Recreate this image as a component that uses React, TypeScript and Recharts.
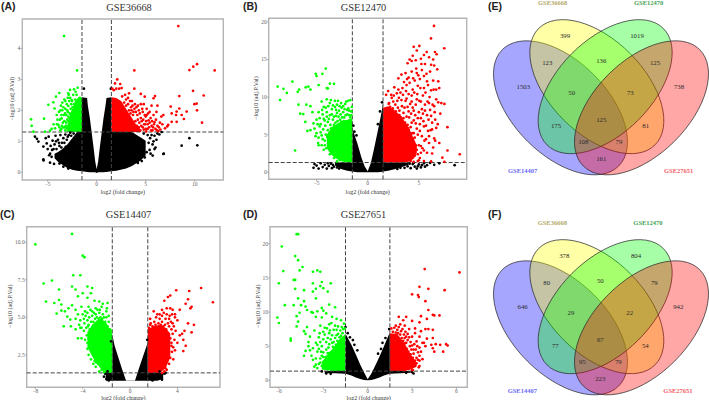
import {
  Area,
  ComposedChart,
  ReferenceArea,
  ReferenceLine,
  Scatter,
  ScatterChart,
  XAxis,
  YAxis,
} from "recharts";

type Pt = number[];

// ---- volcano A: GSE36668 ----
const aBlackBand: Pt[] = [
  [-4.3, 0.45, 0.6], [-3.9, 0.32, 0.66], [-3.5, 0.24, 0.75], [-3, 0.14, 0.9], [-2.5, 0.08, 1.1], [-2, 0.05, 1.3],
  [-1.5, 0.03, 1.3], [-1.49, 0.03, 2.42], [-0.98, 0.01, 2.4], [-0.9, 0.01, 2.15], [-0.7, 0, 1.75], [-0.5, 0, 1.25], [-0.3, 0, 0.75], [-0.15, 0, 0.35], [0, -0.02, 0.1],
  [0.15, 0, 0.35], [0.3, 0, 0.75], [0.5, 0, 1.25], [0.7, 0, 1.75], [0.9, 0.01, 2.15], [1.0, 0.01, 2.4], [1.49, 0.03, 2.42], [1.5, 0.03, 1.3],
  [2, 0.05, 1.3], [3, 0.12, 1.3], [3.6, 0.2, 1.3], [4, 0.28, 1.22], [4.5, 0.38, 1.12], [5, 0.55, 1.02],
];
const aGreenBand: Pt[] = [[-3, 1.3, 1.5], [-2.6, 1.3, 1.95], [-2.2, 1.3, 2.3], [-1.8, 1.3, 2.45], [-1.5, 1.3, 2.42]];
const aRedBand: Pt[] = [[1.5, 1.3, 2.42], [2, 1.3, 2.4], [2.5, 1.3, 2.3], [3, 1.3, 2.05], [3.5, 1.3, 1.8], [4, 1.3, 1.55], [4.5, 1.3, 1.38]];
const aBlack: Pt[] = [
  [9.46, 1.1], [8.67, 0.86], [10.27, 0.87], [6.8, 0.59], [6.85, 0.6], [5.71, 0.54], [6.63, 1.3], [6.4, 1.22], [6.1, 1.05], [5.9, 1.18], [5.7, 0.9], [5.4, 0.72], [5.1, 0.65], [4.9, 0.48], [4.6, 0.36], [4.2, 0.3],
  [5.2, 1.2], [5.3, 0.95], [5.6, 1.2], [5.8, 1], [6, 0.8], [6.2, 1.25], [5.5, 0.6], [5.9, 0.75], [5.45, 1.1], [4.8, 1.25],
  [-1.3, 2.7], [1.45, 2.7], [-6.3, 1.15], [-5.95, 0.99], [-6.1, 1.08], [-5.44, 0.42], [-5.42, 0.38], [-4.76, 0.31], [-4.35, 0.27], [-5.44, 0.83], [-5.1, 0.93], [-5.2, 1.1], [-5, 0.75], [-4.9, 1.15], [-4.75, 0.6], [-4.7, 0.85], [-4.5, 1.02], [-4.55, 0.72], [-4.3, 0.9], [-4.2, 1.18], [-4.1, 0.75], [-3.95, 1.05], [-3.8, 0.85], [-3.7, 1.2], [-3.55, 0.95], [-3.4, 1.1], [-3.2, 1.22], [-3.05, 1.05], [-2.85, 1.2], [-3.8, 0.28], [-3.4, 0.18], [-2.9, 0.12],
  [-4.4, 0.75], [-4.15, 1], [-3.85, 0.95], [-3.6, 0.8], [-3.3, 0.95], [-3.15, 0.82], [-2.95, 1.15], [-2.7, 1.28], [-2.6, 1.18], [-2.35, 1.25], [-4.6, 0.5], [-4.85, 0.55],
];
const aGreen: Pt[] = [
  [-3.33, 4.4], [-2, 3.29], [-6.7, 1.71], [-6.63, 1.5], [-6.46, 1.31], [-5.37, 1.73], [-5.27, 1.31], [-4.93, 2.18], [-4.76, 1.34], [-4.42, 2.26], [-4.15, 2.44], [-3.81, 2.56], [-4.3, 2.06], [-4.08, 1.85], [-4.25, 1.42], [-3.9, 1.53], [-3.57, 1.74], [-3.23, 1.9], [-2.9, 2.14], [-2.55, 2.33], [-2.72, 2.66], [-2.31, 2.68], [-1.94, 2.73],
  [-2.9, 2.55], [-2.4, 2.5], [-3.2, 2.3], [-3.4, 2.1], [-3.7, 2], [-3.1, 1.6], [-3.4, 1.45], [-3.7, 1.35], [-4, 1.7], [-2.9, 1.8], [-3.2, 1.35], [-2.7, 1.55], [-2.95, 2.4], [-3.5, 2.25], [-3.85, 1.95], [-4.05, 1.55], [-3, 2], [-3.3, 1.65], [-2.65, 2.05], [-2.75, 1.9], [-2.6, 2.2], [-2.85, 1.65], [-3.55, 1.5], [-3.15, 1.5], [-2.8, 2.3], [-2.45, 2.1], [-3.6, 1.85], [-2.5, 1.95], [-4.4, 1.55], [-2.15, 2.6], [-2.05, 2.5], [-4.6, 1.4], [-3.05, 1.42],
  [-2.2, 2.35], [-2.3, 2.2], [-2.35, 2], [-2.4, 1.8], [-2.45, 1.55], [-2.5, 2.3], [-2.55, 1.75], [-2.6, 1.5], [-2.65, 1.85], [-2.7, 2.4], [-2.75, 1.45], [-2.8, 1.75], [-2.85, 2.5], [-2.9, 1.5], [-2.95, 1.95], [-3, 1.7], [-3.05, 2.2], [-3.1, 1.85], [-3.2, 2.05], [-3.25, 1.45], [-3.3, 2.35], [-3.35, 1.85], [-3.45, 1.6], [-3.5, 2], [-3.6, 1.4], [-3.65, 2.15], [-3.75, 1.7], [-3.8, 1.45],
];
const aRed: Pt[] = [
  [8.33, 4.72], [10.24, 3.49], [9.46, 3.3], [9.86, 3.41], [12.04, 3.29], [3.84, 3.29], [2.1, 3], [1.87, 2.87], [3.84, 2.7], [9.83, 2.63], [8.43, 2.46], [10.92, 2.48], [10.2, 2.22], [9.97, 2.2], [10.24, 2], [10.75, 1.6], [7.55, 2.12], [8.43, 2.06], [9.18, 1.96], [8.16, 1.96], [7.65, 1.9], [8.1, 1.85], [8.67, 1.85], [6.8, 1.85], [8.16, 1.63], [7.65, 1.63], [7.3, 1.53], [6.97, 1.42], [6.6, 1.8], [8.9, 1.72], [7.2, 1.48],
  [1.6, 2.7], [1.75, 2.65], [2, 2.7], [2.3, 2.7], [2.55, 2.72], [2.4, 2.85], [2.9, 2.5], [3.3, 2.55], [3, 2.35], [3.6, 2.3], [4.5, 2.53], [4.9, 2.44], [5.95, 2.46], [5.8, 2.39], [3.5, 2.1], [3.9, 2.2], [4.2, 2.15], [4.5, 2.2], [4.8, 2.2], [5.1, 2.05], [5.6, 2.15], [6.2, 2.15], [3.2, 2.2], [4, 1.95], [4.4, 1.9], [4.7, 1.95], [5, 1.8], [5.4, 1.95], [5.8, 1.85], [6.1, 1.95], [3.7, 1.85], [4.2, 1.7], [4.6, 1.65], [4.95, 1.55], [5.3, 1.68], [5.6, 1.5], [5.9, 1.62], [6.2, 1.5], [6.5, 1.38], [6.3, 1.33], [5.7, 1.35], [5.2, 1.4], [4.8, 1.38], [6.7, 1.55], [4.3, 1.45], [5.05, 1.32],
  [2.6, 2.45], [2.8, 2.25], [3, 2.15], [3.2, 2.4], [3.3, 2], [3.4, 2.3], [3.45, 1.9], [3.55, 2], [3.6, 1.65], [3.65, 2.15], [3.7, 1.55], [3.75, 1.95], [3.8, 1.4], [3.85, 2.05], [3.95, 1.65], [4, 1.35], [4.05, 2.1], [4.1, 1.5], [4.15, 1.85], [4.25, 1.4], [4.3, 2], [4.35, 1.6], [4.45, 1.35], [4.5, 1.75], [4.55, 1.5], [4.65, 2.05], [4.7, 1.45], [4.75, 1.7], [4.85, 1.55], [4.9, 1.85], [5, 1.4], [5.05, 1.65], [5.1, 1.85], [5.2, 1.55], [5.25, 1.9], [5.35, 1.45], [5.4, 1.6], [5.5, 1.75], [5.55, 1.35], [5.65, 1.65], [5.75, 1.45], [5.85, 1.55], [6, 1.4], [6.05, 1.7], [6.15, 1.35], [6.35, 1.45], [6.45, 1.6],
];

// ---- volcano B: GSE12470 ----
const bBlackBand: Pt[] = [
  [-3.2, 0.9, 1.3], [-2.6, 0.45, 1.3], [-2, 0.2, 1.3], [-1.5, 0.1, 1.3], [-1.49, 0.1, 5.9], [-1.2, 0.05, 4.6], [-1, 0.02, 3.8], [-0.6, 0, 1.9], [-0.3, 0, 0.8], [0, 0, 0.15],
  [0.3, 0, 1.2], [0.6, 0, 3], [1, 0.02, 5.6], [1.3, 0.05, 7.6], [1.49, 0.1, 9.1], [1.5, 0.1, 1.3], [2, 0.2, 1.3], [2.6, 0.4, 1.3], [3.4, 0.75, 1.3], [4, 1, 1.3],
];
const bGreenBand: Pt[] = [[-4, 3.2, 5], [-3.6, 2.4, 5.8], [-3.2, 1.9, 6.3], [-2.8, 1.6, 6.6], [-2.4, 1.4, 6.9], [-2, 1.3, 7], [-1.5, 1.3, 7.2]];
const bRedBand: Pt[] = [[1.5, 1.3, 8.6], [2, 1.3, 8.8], [2.5, 1.3, 8.4], [3, 1.3, 7.8], [3.5, 1.3, 7], [4, 1.4, 6], [4.5, 1.8, 4.5], [4.8, 2.6, 3.6]];
const bBlack: Pt[] = [
  [-5.3, 0.6], [-5, 0.9], [-4.8, 0.5], [-4.6, 1.2], [-4.4, 0.7], [-4.2, 1], [-4, 0.5], [-3.8, 0.85], [-3.6, 1.15], [-3.5, 0.55], [-3.3, 0.75], [-5.2, 1.1], [-1.4, 6.2], [-1.3, 5.4], [-1.1, 4.9], [1.4, 9.3], [1.2, 8.1], [1, 6.4],
  [3.6, 0.6], [3.9, 0.8], [4.2, 0.55], [4.4, 1.1], [4.6, 0.75], [4.8, 0.5], [5, 1.05], [5.2, 0.65], [5.5, 1.2], [5.8, 0.95], [6.1, 1.25], [6.5, 1], [7, 1.2], [8.5, 0.95], [4.5, 1.25],
  [-3.9, 1.2], [-3.4, 1], [-3, 0.65], [-2.8, 0.5], [2.9, 0.45], [3.2, 0.6], [3.5, 1], [4.1, 1.15], [4.9, 0.8], [5.3, 0.95], [5.6, 0.75],
];
const bGreen: Pt[] = [
  [-8.8, 11.4], [-8.24, 11.1], [-8.57, 9.6], [-7.9, 10.55], [-7.36, 12.06], [-7.1, 2.9], [-6.84, 10.7], [-6.7, 11], [-6.77, 9], [-6.06, 11.3], [-5.8, 11.4], [-5.6, 11], [-5.08, 13.1], [-5, 12.8], [-4.43, 13.1], [-4.1, 13.8], [-4.8, 11.6], [-3.7, 11.8], [-3.3, 11.75], [-4, 11.2], [-3.9, 11.15], [-6.6, 7.8], [-6.3, 7.75], [-6, 9], [-6.1, 6.7], [-5.6, 8.8], [-5.4, 8], [-5.3, 6.5], [-5.6, 5.6], [-5.9, 5.5], [-5.1, 4.8], [-4.85, 3.9], [-4.8, 3.6],
  [-5, 7], [-4.8, 8], [-4.7, 6.1], [-4.5, 9.4], [-4.4, 7.7], [-4.6, 5.3], [-4.3, 8.7], [-4.2, 6.9], [-4.4, 4.4], [-4, 9.7], [-4, 8], [-3.8, 7.1], [-3.9, 5.6], [-4.3, 3], [-3.7, 9.2], [-3.5, 8.4], [-3.4, 7], [-3.6, 5.8], [-3.2, 8.7], [-3, 9], [-3.1, 7.5], [-2.8, 8.2], [-2.6, 9.2], [-2.4, 8], [-2.2, 9.1], [-2, 8.3], [-2.3, 7.3], [-1.9, 9.5], [-1.7, 9.6], [-1.6, 8.1], [-1.8, 7.6], [-2.7, 7], [-3.3, 6.3], [-3.7, 4.5], [-4.1, 5], [-3.4, 3], [-3.7, 2.4], [-3.3, 1.9], [-3, 1.45], [-4.2, 3.6], [-4.5, 3.6],
  [-5.2, 5.8], [-5, 5.2], [-4.9, 6.4], [-4.8, 4.6], [-4.7, 7.2], [-4.6, 6.4], [-4.5, 4.9], [-4.45, 8.3], [-4.35, 5.7], [-4.3, 7.1], [-4.2, 4.2], [-4.15, 6.2], [-4.1, 8.6], [-4.05, 3.2], [-4, 7.4], [-3.95, 4.7], [-3.9, 6.7], [-3.85, 8.8], [-3.8, 3.9], [-3.75, 5.2], [-3.7, 7.6], [-3.65, 6.3], [-3.6, 9.6], [-3.55, 4.1], [-3.5, 7.7], [-3.45, 5.9], [-3.4, 8.9], [-3.35, 2.6], [-3.3, 7.4], [-3.25, 5.9], [-3.2, 9.5], [-3.15, 6.6], [-3.1, 8.3], [-3.05, 2.2], [-3, 7.9], [-2.95, 6.8], [-2.9, 9.5], [-2.85, 7.4], [-2.8, 6.4], [-2.75, 8.8], [-2.7, 1.6], [-2.65, 7.7], [-2.6, 6.7], [-2.55, 8.6], [-2.5, 7.3], [-2.4, 8.8], [-2.35, 6.8], [-2.25, 8.4], [-2.15, 7.6], [-2.1, 9.4], [-2, 7.7], [-1.9, 8.5], [-1.8, 8.2], [-1.7, 7.3], [-1.6, 7.6], [-1.55, 8.7],
];
const bRed: Pt[] = [
  [6.48, 19.47], [6.19, 17.8], [7.49, 16.5], [4.5, 16.7], [5.05, 16.8], [4.8, 16.2], [4.4, 15.5], [5.77, 16], [6.58, 16], [6.74, 15.7], [5.5, 15.6], [6, 15.3], [6.4, 15], [5.2, 15.1], [4.7, 14.9], [4.3, 14.8], [3.9, 14.5], [4.1, 15], [5.6, 14.4], [6.5, 14.2], [6.8, 13.7], [6.1, 13.4], [5.3, 13.6], [4.8, 13.2], [4.3, 13.4], [3.7, 13.2], [3.3, 13], [3, 12.5], [4, 12.6], [4.6, 12.2], [5.1, 12.4], [5.8, 12.1], [6.4, 12.2], [7, 11.2], [6.7, 11], [6.2, 10.9], [5.5, 11.2], [4.9, 11.5], [4.4, 11], [3.8, 11.6], [3.4, 11.2], [3, 11], [2.6, 11.3], [2.3, 10.3], [2, 10.8], [1.8, 10.3],
  [7.2, 9.2], [7.5, 9.1], [7.8, 6], [6.9, 9.3], [6.5, 8.8], [6, 9.2], [5.6, 9], [5.2, 9.4], [4.8, 9.7], [4.3, 9.4], [3.8, 9.8], [3.3, 9.6], [2.9, 9.5], [2.5, 9.4], [2.1, 9.2], [7.1, 7.8], [6.6, 7], [6.2, 7.5], [5.8, 7.6], [5.4, 7.8], [5, 8], [4.5, 8.2], [4, 8.1], [3.5, 7.9], [3.1, 7.6], [6.7, 5.9], [6.3, 5.7], [5.9, 5.5], [5.5, 6.1], [5.1, 6.4], [4.7, 6.5], [4.3, 6.6], [3.9, 6.3], [6.5, 4.5], [6, 3.9], [5.7, 4.4], [5.3, 4.8], [4.9, 5], [4.5, 5.2], [7.3, 1.95], [7.8, 2.9], [9, 2.4], [6.3, 2.5], [5.5, 2.9], [5.2, 3.5], [4.9, 2.4], [5.1, 1.9], [4.7, 3.6], [5.5, 1.5], [6.2, 1.45], [7.5, 1.4], [4.4, 2], [4.1, 2.6], [4.5, 1.4],
  [2.05, 9.1], [2.2, 8.7], [2.35, 9.9], [2.45, 8.5], [2.55, 10.2], [2.7, 9], [2.75, 8.1], [2.85, 10.5], [2.95, 8.6], [3.05, 9.9], [3.1, 8.2], [3.2, 10.6], [3.25, 7.3], [3.35, 8.8], [3.45, 10.3], [3.5, 7.2], [3.55, 12], [3.6, 8.6], [3.65, 6.6], [3.7, 9.5], [3.75, 10.8], [3.8, 7.4], [3.85, 12.4], [3.9, 8.7], [3.95, 5.8], [4, 10.4], [4.05, 7.3], [4.1, 11.9], [4.15, 9.1], [4.2, 6], [4.25, 7.8], [4.3, 10.2], [4.35, 5.2], [4.4, 8.6], [4.45, 12.5], [4.5, 6.9], [4.55, 10.6], [4.6, 4.6], [4.65, 7.6], [4.7, 9], [4.75, 13.8], [4.8, 5.8], [4.85, 10.4], [4.9, 7.2], [4.95, 12.9], [5, 3.6], [5.05, 9.5], [5.1, 5.5], [5.15, 11.2], [5.2, 7.2], [5.25, 14.4], [5.3, 8.4], [5.35, 3.2], [5.4, 10.2], [5.45, 6.8], [5.5, 12.8], [5.55, 4.2], [5.6, 8.2], [5.65, 10.6], [5.7, 6.2], [5.75, 13.1], [5.8, 2.6], [5.85, 9.4], [5.9, 11.6], [5.95, 7], [6, 4.8], [6.05, 10], [6.1, 8.3], [6.15, 5.6], [6.2, 14.3], [6.3, 6.6], [6.35, 9], [6.4, 3.3], [6.45, 11], [6.55, 8], [6.6, 4.2], [6.7, 9.7], [6.85, 6.4], [6.9, 12.1], [7, 3.9],
  [3.7, 6.2], [3.85, 5.2], [4, 5.6], [4.15, 4.8], [4.3, 3.2], [4.45, 3.9], [4.6, 2.2], [4.8, 3], [5, 1.6], [5.2, 2.6], [4.2, 1.5], [4.9, 1.5], [3.95, 4.4], [4.4, 4.5],
];

// ---- volcano C: GSE14407 ----
const cBlackBand: Pt[] = [
  [-2.05, 0.77, 1.3], [-1.5, 0.77, 1.3], [-1.49, 0.77, 3.8], [-1.3, 0.77, 3.1], [-1, 0.77, 2.35], [-0.7, 0.77, 1.6], [-0.34, 0.77, 0.8],
  [0.42, 0.77, 0.8], [0.8, 0.77, 1.7], [1.1, 0.77, 2.4], [1.49, 0.77, 3.3], [1.5, 0.77, 1.3], [2.3, 0.77, 1.3], [2.8, 0.9, 1.3],
];
const cGreenBand: Pt[] = [[-3.6, 3, 4], [-3.2, 2.4, 4.5], [-2.8, 1.9, 4.8], [-2.4, 1.5, 4.9], [-2, 1.3, 4.6], [-1.5, 1.3, 3.9]];
const cRedBand: Pt[] = [[1.5, 1.3, 4.2], [2, 1.3, 4.4], [2.5, 1.3, 4.5], [3, 1.6, 4.3], [3.4, 2.3, 3.9]];
const cBlack: Pt[] = [[-2.1, 1.25], [-2.2, 1.05], [-1.9, 1.4], [-2, 0.9], [-1.6, 3.4], [1.45, 3.5], [2.6, 1.1], [2.9, 1.25], [2.5, 1.4], [3, 1.3], [2.7, 0.85], [1.9, 0.8], [-1.8, 0.8]];
const cGreen: Pt[] = [
  [-4.9, 10.55], [-8, 9.85], [-4, 9.1], [-3.85, 9], [-4.8, 7.8], [-4.2, 7.8], [-7.3, 7.25], [-6.6, 7.45], [-4.9, 7.05], [-3.6, 7.05], [-3.2, 6.95], [-6, 6.85], [-4.6, 6.85], [-7.1, 6.05], [-6, 6.15], [-6.4, 5.95], [-5.8, 5.85], [-3.3, 6.6], [-4, 6.6], [-4.4, 6.4], [-3.6, 6.3], [-3, 6.1], [-2.6, 6.05], [-2.3, 5.9], [-1.9, 5.95], [-6.2, 5.25], [-5.8, 5.45], [-5.5, 5.4], [-5.2, 5.6], [-5.3, 5.05], [-5.05, 4.85], [-5, 4.4], [-5.6, 4.4], [-4.9, 5.8], [-4.6, 5.5], [-4.4, 5.2], [-4.1, 5.7], [-3.8, 5.4], [-3.5, 5.7], [-3.2, 5.4], [-2.9, 5.6], [-2.6, 5.3], [-2.3, 5.2], [-2, 5.4], [-1.8, 5.1], [-4.6, 4.9], [-4.2, 4.8], [-3.9, 4.9], [-3.6, 4.8], [-4.6, 4.2], [-4.2, 4.3], [-3.9, 4.1], [-4.4, 3.6], [-4.1, 3.6], [-3.8, 3.5], [-3.5, 4.5], [-3.6, 3.3], [-3.6, 2.9], [-3.5, 2.5], [-3.3, 2.2], [-3.3, 3.4], [-3.1, 1.9], [-2.9, 1.7], [-2.6, 1.4], [-2.2, 1.35],
  [-4.3, 4.5], [-4.1, 4.3], [-4, 5.2], [-3.85, 4.6], [-3.75, 5.1], [-3.7, 4.3], [-3.65, 3.8], [-3.6, 5.3], [-3.55, 4.4], [-3.5, 3.6], [-3.45, 5], [-3.4, 4.2], [-3.35, 5.5], [-3.3, 4.7], [-3.25, 3.1], [-3.2, 5.1], [-3.15, 2.7], [-3.1, 4.7], [-3.05, 5.3], [-3, 2.1], [-2.95, 4.9], [-2.9, 5.2], [-2.85, 2], [-2.8, 5], [-2.75, 5.5], [-2.7, 1.9], [-2.65, 4.9], [-2.55, 5.5], [-2.5, 5], [-2.4, 1.5], [-2.35, 4.9], [-2.2, 5], [-2.1, 4.7], [-2, 5], [-1.9, 4.4], [-1.8, 4.7], [-1.7, 4.2], [-1.6, 4.1], [-1.95, 5.6], [-2.4, 5.7],
];
const cRed: Pt[] = [
  [6, 6.95], [7, 6], [5, 6.75], [4.9, 6.2], [5.2, 5.7], [5.1, 5.6], [3.9, 6.8], [3.4, 6.45], [3.2, 6.35], [2.9, 6.1], [4.7, 5.9], [4.2, 5.5], [3.8, 5.2], [3.6, 5.5], [3.4, 5.6], [3.1, 5.6], [2.7, 5.5], [2.5, 5.2], [2.2, 5], [2, 5.4], [1.7, 4.5], [1.7, 4.9], [3.3, 4.9], [3, 4.9], [2.7, 4.7], [4, 4.8], [3.6, 4.6], [4.9, 4.6], [5.4, 4.5], [4.6, 4.1], [4.4, 3.9], [4.2, 3.8], [5.2, 4], [4.5, 3.5], [4.7, 3.1], [4.5, 2.75], [4, 3.3], [3.8, 2.8], [3.5, 4.2], [3.3, 4.4], [3.3, 3.3], [3.5, 3.1], [3.3, 2.7], [3.1, 2.2], [3, 1.9], [3.1, 1.5], [2.7, 1.3], [2.9, 1.4],
  [1.6, 4.3], [1.75, 4.6], [1.9, 4.4], [2.05, 4.7], [2.15, 4.5], [2.3, 5.2], [2.4, 4.6], [2.5, 4.9], [2.6, 4.5], [2.7, 5.1], [2.8, 4.4], [2.85, 5.3], [2.95, 4.5], [3.05, 4.2], [3.1, 5.2], [3.2, 4.6], [3.25, 3.9], [3.35, 5.1], [3.4, 3.6], [3.45, 4.7], [3.5, 3.3], [3.55, 5.2], [3.6, 3.9], [3.65, 3], [3.7, 4.4], [3.75, 3.5], [3.8, 5], [3.85, 4.1], [3.2, 2.5], [3.3, 1.9], [3.4, 2.3], [3.55, 2.7], [3, 1.6], [3.65, 2.2],
];

// ---- volcano D: GSE27651 ----
const dBlackBand: Pt[] = [
  [-2.9, 1.05, 1.35], [-2.2, 1.05, 1.35], [-1.5, 0.95, 1.35], [-1.49, 0.95, 6.8], [-1.1, 0.7, 5.2], [-0.8, 0.4, 3.8], [-0.5, 0.2, 2.3], [-0.25, 0.05, 1.2], [0, 0, 0.15],
  [0.25, 0.05, 1], [0.5, 0.2, 2.1], [0.8, 0.4, 3.5], [1.1, 0.7, 5], [1.49, 0.95, 7], [1.5, 0.95, 1.35], [2.2, 1.05, 1.35], [2.9, 1.1, 1.35],
];
const dGreenBand: Pt[] = [[-3.1, 1.6, 2.6], [-2.7, 1.45, 3.8], [-2.3, 1.35, 4.8], [-1.9, 1.35, 6], [-1.5, 1.35, 6.8]];
const dRedBand: Pt[] = [[1.5, 1.35, 6.9], [2, 1.35, 6.8], [2.5, 1.35, 5.4], [2.9, 1.6, 3.8], [3.3, 2, 2.6]];
const dBlack: Pt[] = [[-1.5, 7.8], [-1.35, 6.9], [-1.2, 6.3], [-1, 5.9], [-0.9, 5.2], [-0.7, 4.4], [1.45, 7.5], [1.2, 6.2], [1, 5.5], [0.9, 4.6], [0.7, 3.9], [-3.1, 1.3], [-2.8, 1], [3, 1.2], [3.1, 1], [2.6, 1.1], [-2.5, 0.95]];
const dGreen: Pt[] = [
  [-4.8, 21.4], [-4.7, 21.4], [-5.8, 19.6], [-4.9, 18.2], [-4.7, 17.6], [-4.4, 16.6], [-4.6, 16.1], [-5.7, 16], [-3.7, 15.9], [-3.4, 16.1], [-3.2, 15.9], [-5, 14.7], [-4.9, 14.7], [-6, 14.2], [-3.7, 14.2], [-3.1, 14.4], [-2.5, 14.2], [-3.2, 13.8], [-3, 13.5], [-4.9, 13.4], [-3.5, 13.4], [-4.3, 13.2], [-3.7, 13], [-2.7, 13], [-4.7, 12], [-3.5, 12], [-4.3, 11.6], [-4.2, 10.8], [-5.6, 11], [-5, 11], [-4.5, 11], [-4.1, 10.3], [-2.6, 11.1], [-3.1, 10.6], [-2.2, 10.7], [-4.6, 9.9], [-3.8, 10], [-3.7, 9.9], [-3.4, 10.1], [-3, 10.2], [-2.8, 9.8], [-6.1, 9.2], [-6, 8.4], [-4.8, 9.4], [-4.7, 8.6], [-3.5, 9.3], [-3.1, 9.2], [-2.4, 9.3], [-2.1, 9], [-1.8, 8.8], [-1.6, 8.3], [-4.8, 7.9], [-4.1, 7.8], [-3.2, 8], [-2.6, 8.2], [-2.2, 8], [-4.3, 7.2], [-3.6, 7.3], [-3, 7.1], [-5.2, 6.1], [-5.2, 5.8], [-4.2, 6.8], [-3.9, 6.4], [-3.3, 6.3], [-2.6, 6.9], [-4, 5.6], [-4, 5], [-3.5, 5.5], [-3.1, 5], [-3.7, 4.7], [-3.4, 4.2], [-4.2, 4.3], [-4.3, 3.6], [-3.5, 3.2], [-3.1, 3.6], [-3.2, 2.6], [-2.9, 2.9], [-2.7, 4], [-2.4, 5.5], [-2.1, 6.6],
  [-3.3, 2.4], [-3.2, 3.2], [-3.1, 2.1], [-3, 2.7], [-3, 3.4], [-3, 4.1], [-2.9, 2.2], [-2.85, 3.4], [-2.8, 4.5], [-2.8, 5.6], [-2.75, 2.7], [-2.7, 3.6], [-2.7, 6.2], [-2.65, 4.8], [-2.6, 3.9], [-2.6, 5.3], [-2.55, 7.3], [-2.5, 4.1], [-2.5, 6], [-2.45, 3.7], [-2.4, 6.6], [-2.35, 4.9], [-2.3, 7.4], [-2.3, 5.6], [-2.25, 4.7], [-2.2, 6.2], [-2.15, 5.2], [-2.1, 7.4], [-2.05, 5.8], [-2, 6.8], [-2, 7.9], [-1.95, 5.5], [-1.9, 6.3], [-1.85, 7.3], [-1.8, 6.5], [-1.75, 7.8], [-1.7, 6.9], [-1.65, 7.5], [-1.55, 7.6], [-3.4, 1.8], [-3.5, 2.3], [-3.6, 2], [-3.7, 3], [-3.8, 3.6], [-3.9, 4.4], [-3.4, 5.2], [-3.3, 4.6], [-3.2, 5.6], [-3.15, 4.2], [-3, 6], [-3.25, 6.9], [-2.9, 6.7], [-2.75, 7.6], [-2.45, 8.4], [-2.9, 7.7],
];
const dRed: Pt[] = [
  [6.2, 15.8], [3.85, 16.3], [3.5, 13.7], [4.1, 13.4], [5.2, 13.2], [3, 12.6], [3.4, 12.5], [3.45, 12.2], [3.9, 11.6], [4.1, 10.3], [3.6, 9.4], [4, 9], [4.4, 9.6], [4.5, 9.5], [4.85, 9.5], [2.6, 9.3], [2.1, 9.3], [2.4, 8.8], [3, 8.7], [3.5, 8.5], [2.2, 8.2], [2.5, 8], [1.9, 8], [2.8, 7.5], [3.2, 7.6], [3.9, 7.5], [4.1, 7.5], [4.4, 7.4], [3.6, 7.2], [3.2, 6.9], [3, 6.4], [2.7, 6.8], [2.5, 6.2], [3.5, 6.4], [4, 6.1], [4.4, 6.2], [3.7, 5.5], [3.3, 5.7], [2.9, 5.6], [2.6, 5.5], [4.3, 5.2], [4.6, 5.3], [4.9, 5.2], [5.3, 5.3], [5.4, 5.1], [5.1, 4.2], [4.4, 4.7], [4.5, 4.2], [3.9, 5], [3.5, 4.8], [3.4, 4.1], [3.1, 4.5], [2.9, 3.8], [3.3, 3.3], [3.5, 2.9], [2.7, 3.2], [2.9, 2.6], [2.6, 2.8], [3.2, 2.2], [2.8, 1.8], [2.5, 1.5], [3, 1.5], [3.5, 2.1], [3.5, 3.6],
  [1.6, 7.6], [1.7, 7.1], [1.8, 7.7], [1.9, 7], [2, 7.4], [2.05, 6.9], [2.1, 7.8], [2.2, 6.7], [2.25, 7.2], [2.3, 6.2], [2.35, 7.5], [2.4, 5.8], [2.45, 6.7], [2.5, 5.4], [2.55, 7.1], [2.6, 6.4], [2.65, 4.6], [2.7, 5.9], [2.75, 4.2], [2.8, 6.3], [2.85, 5], [2.9, 3.4], [2.95, 4.5], [3, 5.1], [3.05, 3.3], [3.1, 3.9], [3.15, 5.3], [3.2, 2.9], [3.25, 4.5], [3.3, 2.5], [3.35, 5], [3.4, 3], [3.45, 1.9], [3.6, 4.2], [3.7, 3.1], [3.8, 5.5], [3.05, 1.5],
];

const panels = [
  {
    title: "GSE36668", tag: "(A)", left: 0, top: 0, boxL: 22.3, boxT: 19, boxR: 223.3, boxB: 180, titleX: 129, titleY: 8, tagX: 1, tagY: 0, xLabelOff: 6, yLabelOff: 12,
    xDomain: [-7.59, 12.92], yDomain: [-0.25, 4.95], xTicks: [-5, 0, 5, 10], yTicks: [0, 1, 2, 3, 4], yDigits: 0, hLine: 1.3,
    blackBand: aBlackBand, greenBand: aGreenBand, redBand: aRedBand, black: aBlack, green: aGreen, red: aRed,
  },
  {
    title: "GSE12470", tag: "(B)", left: 235, top: 0, boxL: 268.7, boxT: 18.3, boxR: 466.7, boxB: 179.3, titleX: 363.5, titleY: 8, tagX: 243, tagY: 0, xLabelOff: 6, yLabelOff: 21,
    xDomain: [-9.68, 9.68], yDomain: [-0.93, 20.48], xTicks: [-5, 0, 5], yTicks: [0, 5, 10, 15, 20], yDigits: 0, hLine: 1.3,
    blackBand: bBlackBand, greenBand: bGreenBand, redBand: bRedBand, black: bBlack, green: bGreen, red: bRed,
  },
  {
    title: "GSE14407", tag: "(C)", left: 0, top: 200, boxL: 26.7, boxT: 226.7, boxR: 220, boxB: 387.3, titleX: 128.5, titleY: 215, tagX: 0, tagY: 208, xLabelOff: 0.3, yLabelOff: 9.5,
    xDomain: [-8.73, 7.6], yDomain: [0.34, 11.03], xTicks: [-8, -4, 0, 4], yTicks: [2.5, 5, 7.5, 10], yDigits: 1, hLine: 1.3,
    blackBand: cBlackBand, greenBand: cGreenBand, redBand: cRedBand, black: cBlack, green: cGreen, red: cRed,
  },
  {
    title: "GSE27651", tag: "(D)", left: 235, top: 200, boxL: 270, boxT: 226.7, boxR: 467.3, boxB: 387.3, titleX: 363.5, titleY: 215, tagX: 243, tagY: 208, xLabelOff: 0.3, yLabelOff: 23,
    xDomain: [-6.6, 6.73], yDomain: [-1.02, 22.5], xTicks: [-6, -3, 0, 3, 6], yTicks: [0, 5, 10, 15, 20], yDigits: 0, hLine: 1.35,
    blackBand: dBlackBand, greenBand: dGreenBand, redBand: dRedBand, black: dBlack, green: dGreen, red: dRed,
  },
];

// ---- venn diagrams ----
const vennSets = ["GSE14407", "GSE36668", "GSE12470", "GSE27651"];
const vennColors = ["#0000ff", "#ffff00", "#00ff00", "#ff0000"];
const vennTextColors = ["#6a6af5", "#b3a968", "#45a552", "#f5606a"];
const vennTilt = [45, 45, -45, -45];
const vennCentresX = [271.5, 380.5, 405.5, 514.5];
const eCentresY = [323.5, 260, 260, 323.5];
const fCentresY = [383.5, 320, 320, 383.5];
const eNameX = [158, 248, 536, 626];
const eNameY = [513, 8, 8, 513];
const fNameX = [157, 247, 534, 624];
const fNameY = [573, 69, 69, 573];
const eCounts = ["399", "1019", "123", "136", "125", "1503", "50", "73", "738", "175", "125", "81", "108", "79", "161"];
const eCountX = [285, 501, 232, 394, 555, 160, 305, 481, 627, 258, 394, 527, 340, 447, 394];
const eCountY = [107, 107, 189, 182, 189, 260, 278, 278, 260, 377, 360, 377, 424, 424, 477];
const fCounts = ["378", "804", "80", "50", "79", "646", "29", "22", "942", "77", "67", "54", "95", "79", "223"];
const fCountX = [283, 498, 230, 391, 553, 158, 303, 479, 625, 256, 391, 526, 337, 445, 391];
const fCountY = [168, 168, 249, 243, 249, 321, 339, 339, 321, 437, 420, 437, 485, 484, 537];

const SERIF = '"Liberation Serif", serif';

const toPoints = (list: Pt[]) => list.map(([x, y]) => ({ x, y }));
const toBand = (list: Pt[]) => list.map(([x, lo, hi]) => ({ x, band: [lo, hi] }));

const Dot = (props: any) => <circle cx={props.cx} cy={props.cy} r={1.35} fill={props.fill} />;

const Volcano = ({ p }: { p: (typeof panels)[number] }) => {
  const width = 236;
  const height = 200;
  const axisW = p.boxL - p.left;
  const bands = [
    { data: p.blackBand, color: "#000000" },
    { data: p.greenBand, color: "#00ff00" },
    { data: p.redBand, color: "#ff0000" },
  ];
  return (
    <div style={{ position: "absolute", left: p.left, top: p.top }}>
      <ComposedChart
        width={width}
        height={height}
        margin={{ left: 0, top: p.boxT - p.top, right: width - (p.boxR - p.left), bottom: 0 }}
      >
        <XAxis
          type="number"
          dataKey="x"
          domain={p.xDomain}
          ticks={p.xTicks}
          allowDataOverflow
          height={height - (p.boxB - p.top)}
          axisLine={false}
          tickLine={{ stroke: "#888", strokeWidth: 0.6 }}
          tickSize={2}
          tick={{ fontSize: 5.5, fill: "#666", fontFamily: SERIF }}
          tickMargin={0}
          tickFormatter={(v: number) => (v < 0 ? `−${-v}` : `${v}`)}
          label={{ value: "log2 (fold change)", position: "insideBottom", offset: p.xLabelOff, fontSize: 6, fill: "#333", fontFamily: SERIF }}
        />
        <YAxis
          type="number"
          dataKey="y"
          domain={p.yDomain}
          ticks={p.yTicks}
          allowDataOverflow
          width={axisW}
          axisLine={false}
          tickLine={{ stroke: "#888", strokeWidth: 0.6 }}
          tickSize={2}
          tick={{ fontSize: 5.5, fill: "#666", fontFamily: SERIF }}
          tickMargin={0}
          tickFormatter={(v: number) => v.toFixed(p.yDigits)}
          label={{ value: "−log10 (adj.P.Val)", angle: -90, position: "insideLeft", offset: p.yLabelOff, dy: 21, fontSize: 6, fill: "#333", fontFamily: SERIF }}
        />
        {bands.map((b, i) => (
          <Area
            key={i}
            data={toBand(b.data)}
            dataKey="band"
            type="linear"
            fill={b.color}
            fillOpacity={1}
            stroke="none"
            dot={false}
            activeDot={false}
            isAnimationActive={false}
          />
        ))}
        <Scatter data={toPoints(p.black)} fill="#000000" shape={Dot} isAnimationActive={false} />
        <Scatter data={toPoints(p.green)} fill="#00ff00" shape={Dot} isAnimationActive={false} />
        <Scatter data={toPoints(p.red)} fill="#ff0000" shape={Dot} isAnimationActive={false} />
        <ReferenceLine x={-1.5} stroke="#444" strokeWidth={1} strokeDasharray="4 2" />
        <ReferenceLine x={1.5} stroke="#444" strokeWidth={1} strokeDasharray="4 2" />
        <ReferenceLine y={p.hLine} stroke="#444" strokeWidth={1} strokeDasharray="4 2" />
        <ReferenceArea
          x1={p.xDomain[0]}
          x2={p.xDomain[1]}
          y1={p.yDomain[0]}
          y2={p.yDomain[1]}
          fill="none"
          stroke="#b4b4b4"
          strokeWidth={1.4}
        />
      </ComposedChart>
    </div>
  );
};

const VennShape = (props: any) => {
  const { cx, cy, payload } = props;
  return (
    <ellipse
      cx={cx}
      cy={cy}
      rx={82.3}
      ry={47}
      transform={`rotate(${payload.tilt} ${cx} ${cy})`}
      fill={payload.color}
      fillOpacity={0.35}
      stroke="#2a2a2a"
      strokeWidth={0.7}
    />
  );
};

const VennText = (props: any) => {
  const { cx, cy, payload } = props;
  return (
    <text
      x={cx}
      y={cy}
      dy="0.35em"
      textAnchor="middle"
      fontSize={payload.size}
      fontFamily={SERIF}
      fontWeight={payload.weight}
      fill={payload.color}
    >
      {payload.text}
    </text>
  );
};

const Venn = ({ top, centresY, nameX, nameY, counts, countX, countY }: any) => {
  const ellipses = vennCentresX.map((x, i) => ({ x, y: centresY[i], tilt: vennTilt[i], color: vennColors[i] }));
  const numbers = counts.map((text: string, i: number) => ({ x: countX[i], y: countY[i], text, size: 6.8, color: "#2b2b2b", weight: 400 }));
  const names = vennSets.map((text, i) => ({ x: nameX[i], y: nameY[i], text, size: 6.5, color: vennTextColors[i], weight: 700 }));
  return (
    <div style={{ position: "absolute", left: 470, top }}>
      <ScatterChart width={239} height={200} margin={{ left: 0, top: 0, right: 0, bottom: 0 }}>
        <XAxis type="number" dataKey="x" domain={[0, 717]} hide />
        <YAxis type="number" dataKey="y" domain={[0, 600]} reversed hide />
        <Scatter data={ellipses} shape={VennShape} isAnimationActive={false} />
        <Scatter data={numbers} shape={VennText} isAnimationActive={false} />
        <Scatter data={names} shape={VennText} isAnimationActive={false} />
      </ScatterChart>
    </div>
  );
};

const tagStyle = (x: number, y: number): React.CSSProperties => ({
  position: "absolute",
  left: x,
  top: y,
  fontFamily: '"Liberation Sans", sans-serif',
  fontWeight: 700,
  fontSize: 10.5,
  lineHeight: "13px",
  color: "#222",
});

export default function App() {
  return (
    <div style={{ position: "absolute", left: 0, top: 0, width: 709, height: 402, background: "#fff", overflow: "hidden" }}>
      {panels.map((p) => (
        <Volcano key={p.title} p={p} />
      ))}
      {panels.map((p) => (
        <div key={p.tag}>
          <div style={tagStyle(p.tagX, p.tagY)}>{p.tag}</div>
          <div
            style={{
              position: "absolute",
              left: p.titleX - 40,
              width: 80,
              top: p.titleY - 7,
              lineHeight: "14px",
              textAlign: "center",
              fontFamily: SERIF,
              fontSize: 10.4,
              color: "#333",
            }}
          >
            {p.title}
          </div>
        </div>
      ))}
      <div style={tagStyle(488, 0)}>(E)</div>
      <div style={tagStyle(488, 208)}>(F)</div>
      <Venn top={0} centresY={eCentresY} nameX={eNameX} nameY={eNameY} counts={eCounts} countX={eCountX} countY={eCountY} />
      <Venn top={200} centresY={fCentresY} nameX={fNameX} nameY={fNameY} counts={fCounts} countX={fCountX} countY={fCountY} />
    </div>
  );
}
